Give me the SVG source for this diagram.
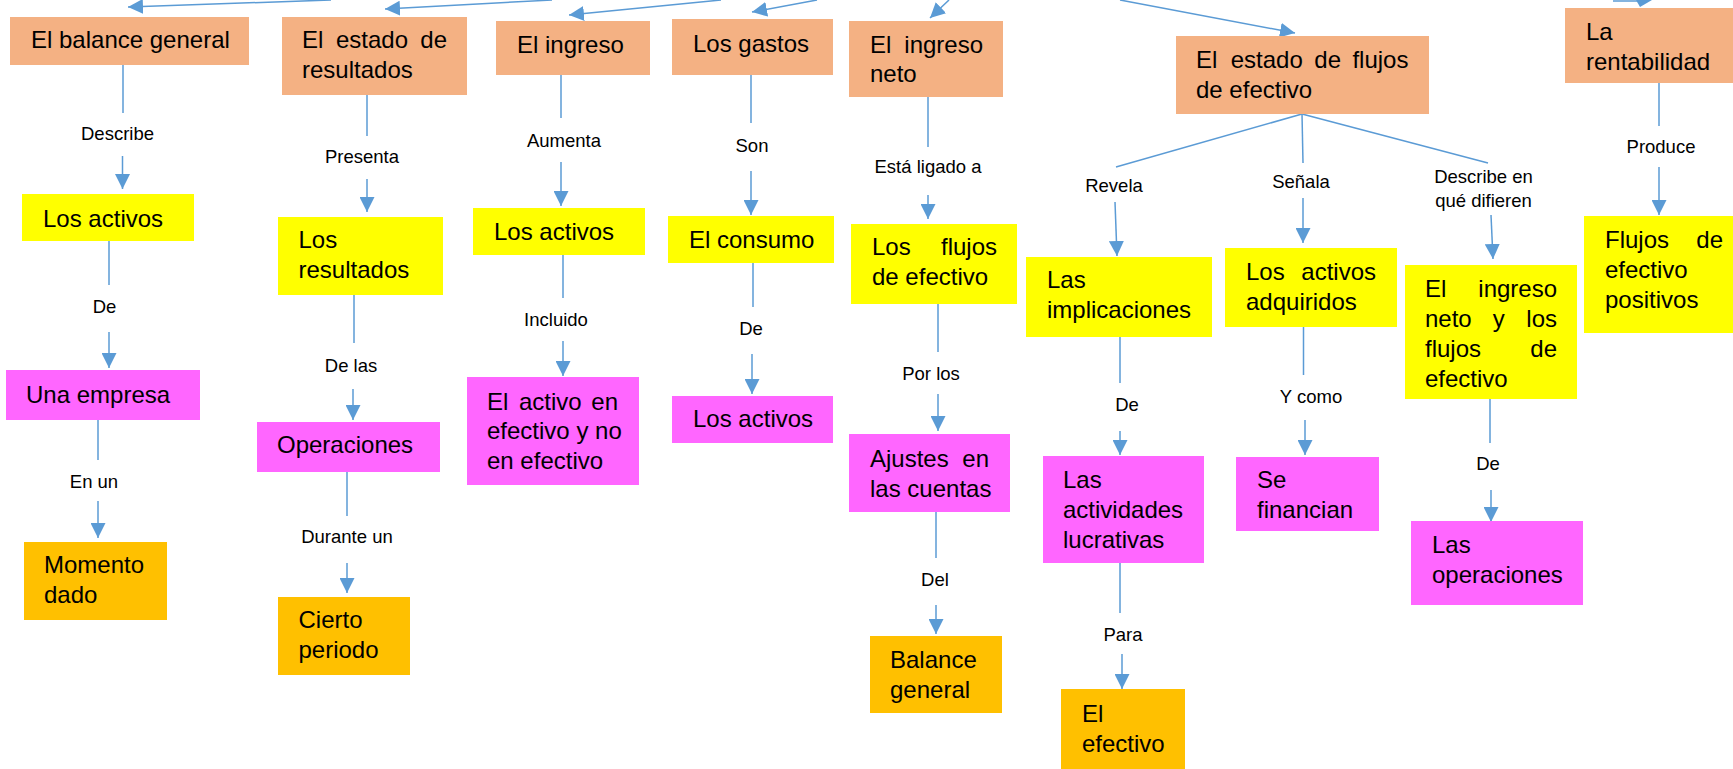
<svg xmlns="http://www.w3.org/2000/svg" width="1733" height="769" viewBox="0 0 1733 769">
<style>
.n text{font-family:"Liberation Sans",Arial,sans-serif;font-size:24px;fill:#000}
.s{fill:#F4B183}.y{fill:#FFFF00}.p{fill:#FF66FF}.o{fill:#FFC000}
.c line,.c path{stroke:#5B9BD5;stroke-width:1.5;fill:none}
.c .a{marker-end:url(#ah)}
.c polygon{fill:#5B9BD5;stroke:none}
.c text{font-family:"Liberation Sans",Arial,sans-serif;font-size:18.5px;fill:#000;text-anchor:middle}
</style>
<defs>
<marker id="ah" viewBox="0 0 10 10" refX="10" refY="5" markerWidth="15" markerHeight="15" markerUnits="userSpaceOnUse" orient="auto">
<path d="M0,0 L10,5 L0,10 z" fill="#5B9BD5"/>
</marker>
</defs>
<rect width="1733" height="769" fill="#fff"/>

<g class="c" id="connectors">
<line class="a" x1="331" y1="0" x2="128" y2="7"/>
<line class="a" x1="552" y1="0" x2="385" y2="9"/>
<line class="a" x1="721" y1="0" x2="569" y2="15"/>
<line class="a" x1="817" y1="0" x2="752" y2="12"/>
<line class="a" x1="949" y1="0" x2="930" y2="18"/>
<line class="a" x1="1120" y1="0" x2="1295" y2="33"/>
<path d="M1613,1 L1640,1"/>
<polygon points="1636,0 1652,0 1640,7"/>

<line x1="123" y1="65" x2="123" y2="113"/><text x="117.5" y="140">Describe</text><line class="a" x1="122.5" y1="156" x2="122.5" y2="189"/>
<line x1="109" y1="241" x2="109" y2="285"/><text x="104.5" y="313">De</text><line class="a" x1="109" y1="332" x2="109" y2="368"/>
<line x1="98" y1="420" x2="98" y2="460"/><text x="94" y="488">En un</text><line class="a" x1="98" y1="501" x2="98" y2="538"/>

<line x1="367" y1="95" x2="367" y2="136"/><text x="362" y="163">Presenta</text><line class="a" x1="367" y1="179" x2="367" y2="212"/>
<line x1="354" y1="295" x2="354" y2="343"/><text x="351" y="372">De las</text><line class="a" x1="353" y1="389" x2="353" y2="420"/>
<line x1="347" y1="472" x2="347" y2="516"/><text x="347" y="543">Durante un</text><line class="a" x1="347" y1="563" x2="347" y2="593"/>

<line x1="561" y1="75" x2="561" y2="118"/><text x="564" y="147">Aumenta</text><line class="a" x1="561" y1="162" x2="561" y2="206"/>
<line x1="563" y1="255" x2="563" y2="298"/><text x="556" y="326">Incluido</text><line class="a" x1="563" y1="341" x2="563" y2="376"/>

<line x1="751" y1="75" x2="751" y2="123"/><text x="752" y="152">Son</text><line class="a" x1="751" y1="171" x2="751" y2="215"/>
<line x1="753" y1="263" x2="753" y2="307"/><text x="751" y="335">De</text><line class="a" x1="752" y1="354" x2="752" y2="394"/>

<line x1="928" y1="97" x2="928" y2="147"/><text x="928" y="173">Está ligado a</text><line class="a" x1="928" y1="195" x2="928" y2="219"/>
<line x1="938" y1="304" x2="938" y2="352"/><text x="931" y="380">Por los</text><line class="a" x1="938" y1="394" x2="938" y2="431"/>
<line x1="936" y1="512" x2="936" y2="558"/><text x="935" y="586">Del</text><line class="a" x1="936" y1="605" x2="936" y2="634"/>

<line x1="1302" y1="114" x2="1116" y2="167"/><text x="1114" y="192">Revela</text><line class="a" x1="1115" y1="202" x2="1117" y2="256"/>
<line x1="1120" y1="337" x2="1120" y2="383"/><text x="1127" y="411">De</text><line class="a" x1="1120" y1="431" x2="1120" y2="455"/>
<line x1="1120" y1="563" x2="1120" y2="613"/><text x="1123" y="641">Para</text><line class="a" x1="1122" y1="654" x2="1122" y2="689"/>

<line x1="1302" y1="114" x2="1303" y2="163"/><text x="1301" y="188">Señala</text><line class="a" x1="1303" y1="198" x2="1303" y2="243"/>
<line x1="1303.5" y1="327" x2="1303.5" y2="375"/><text x="1311" y="403">Y como</text><line class="a" x1="1305" y1="420" x2="1305" y2="455"/>

<line x1="1302" y1="114" x2="1488" y2="163"/><text x="1483.5" y="183">Describe en</text><text x="1483.5" y="207">qué difieren</text><line class="a" x1="1491" y1="215" x2="1493" y2="259"/>
<line x1="1490" y1="399" x2="1490" y2="443"/><text x="1488" y="470">De</text><line class="a" x1="1491" y1="490" x2="1491" y2="522"/>

<line x1="1659" y1="83" x2="1659" y2="126"/><text x="1661" y="153">Produce</text><line class="a" x1="1659" y1="167" x2="1659" y2="215"/>
</g>

<g class="n" id="n1"><rect class="s" x="10" y="17" width="239" height="48"/><text x="31" y="48">El balance general</text></g>
<g class="n" id="n2"><rect class="s" x="282" y="17" width="185" height="78"/><text y="48"><tspan x="302">El</tspan><tspan x="336">estado</tspan><tspan x="420.3">de</tspan></text><text x="302" y="78">resultados</text></g>
<g class="n" id="n3"><rect class="s" x="496" y="21" width="154" height="54"/><text x="517" y="53">El ingreso</text></g>
<g class="n" id="n4"><rect class="s" x="672" y="19" width="161" height="56"/><text x="693" y="52">Los gastos</text></g>
<g class="n" id="n5"><rect class="s" x="849" y="21" width="154" height="76"/><text y="53"><tspan x="870">El</tspan><tspan x="904.3">ingreso</tspan></text><text x="870" y="82">neto</text></g>
<g class="n" id="n6"><rect class="s" x="1176" y="36" width="253" height="78"/><text y="68"><tspan x="1196">El</tspan><tspan x="1230.7">estado</tspan><tspan x="1314.3">de</tspan><tspan x="1352.4">flujos</tspan></text><text x="1196" y="98">de efectivo</text></g>
<g class="n" id="n7"><rect class="s" x="1565" y="8" width="170" height="75"/><text x="1586" y="40">La</text><text x="1586" y="70">rentabilidad</text></g>

<g class="n" id="n8"><rect class="y" x="22" y="194" width="172" height="47"/><text x="43" y="227">Los activos</text></g>
<g class="n" id="n9"><rect class="y" x="278" y="217" width="165" height="78"/><text x="298.5" y="248">Los</text><text x="298.5" y="278">resultados</text></g>
<g class="n" id="n10"><rect class="y" x="473" y="208" width="172" height="47"/><text x="494" y="240">Los activos</text></g>
<g class="n" id="n11"><rect class="y" x="668" y="216" width="166" height="47"/><text x="689" y="248">El consumo</text></g>
<g class="n" id="n12"><rect class="y" x="851" y="224" width="166" height="80"/><text y="255"><tspan x="872">Los</tspan><tspan x="941">flujos</tspan></text><text x="872" y="285">de efectivo</text></g>
<g class="n" id="n13"><rect class="y" x="1026" y="257" width="186" height="80"/><text x="1047" y="288">Las</text><text x="1047" y="318">implicaciones</text></g>
<g class="n" id="n14"><rect class="y" x="1225" y="248" width="172" height="79"/><text y="280"><tspan x="1246">Los</tspan><tspan x="1301.3">activos</tspan></text><text x="1246" y="310">adquiridos</text></g>
<g class="n" id="n15"><rect class="y" x="1405" y="265" width="172" height="134"/><text y="297"><tspan x="1425">El</tspan><tspan x="1478.3">ingreso</tspan></text><text y="327"><tspan x="1425">neto</tspan><tspan x="1492.8">y</tspan><tspan x="1526.3">los</tspan></text><text y="357"><tspan x="1425">flujos</tspan><tspan x="1530.3">de</tspan></text><text x="1425" y="387">efectivo</text></g>
<g class="n" id="n16"><rect class="y" x="1584" y="216" width="151" height="117"/><text y="248"><tspan x="1605">Flujos</tspan><tspan x="1696.3">de</tspan></text><text x="1605" y="278">efectivo</text><text x="1605" y="308">positivos</text></g>

<g class="n" id="n17"><rect class="p" x="6" y="370" width="194" height="50"/><text x="26" y="403">Una empresa</text></g>
<g class="n" id="n18"><rect class="p" x="257" y="422" width="183" height="50"/><text x="277" y="453">Operaciones</text></g>
<g class="n" id="n19"><rect class="p" x="467" y="377" width="172" height="108"/><text y="410"><tspan x="487">El</tspan><tspan x="519">activo</tspan><tspan x="591.3">en</tspan></text><text x="487" y="439">efectivo y no</text><text x="487" y="469">en efectivo</text></g>
<g class="n" id="n20"><rect class="p" x="672" y="396" width="161" height="47"/><text x="693" y="427">Los activos</text></g>
<g class="n" id="n21"><rect class="p" x="849" y="434" width="161" height="78"/><text y="467"><tspan x="870">Ajustes</tspan><tspan x="962.3">en</tspan></text><text x="870" y="497">las cuentas</text></g>
<g class="n" id="n22"><rect class="p" x="1043" y="456" width="161" height="107"/><text x="1063" y="488">Las</text><text x="1063" y="518">actividades</text><text x="1063" y="548">lucrativas</text></g>
<g class="n" id="n23"><rect class="p" x="1236" y="457" width="143" height="74"/><text x="1257" y="488">Se</text><text x="1257" y="518">financian</text></g>
<g class="n" id="n24"><rect class="p" x="1411" y="521" width="172" height="84"/><text x="1432" y="553">Las</text><text x="1432" y="583">operaciones</text></g>

<g class="n" id="n25"><rect class="o" x="24" y="542" width="143" height="78"/><text x="44" y="573">Momento</text><text x="44" y="603">dado</text></g>
<g class="n" id="n26"><rect class="o" x="278" y="597" width="132" height="78"/><text x="298.5" y="628">Cierto</text><text x="298.5" y="658">periodo</text></g>
<g class="n" id="n27"><rect class="o" x="870" y="636" width="132" height="77"/><text x="890" y="668">Balance</text><text x="890" y="698">general</text></g>
<g class="n" id="n28"><rect class="o" x="1061" y="689" width="124" height="82"/><text x="1082" y="722">El</text><text x="1082" y="752">efectivo</text></g>
</svg>
